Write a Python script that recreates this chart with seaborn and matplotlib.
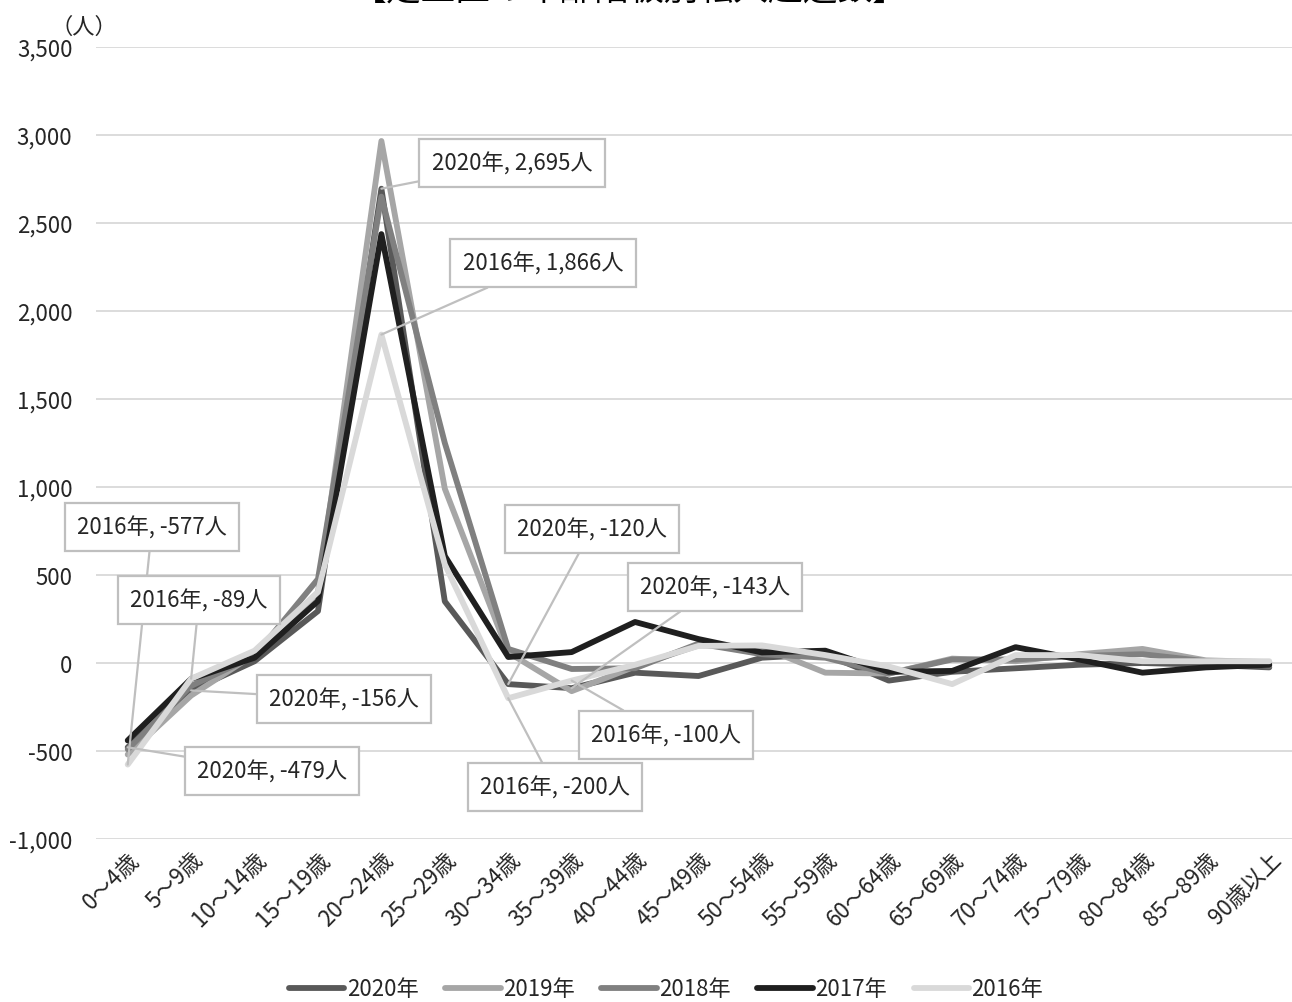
import matplotlib
matplotlib.use("Agg")
import matplotlib.pyplot as plt
import seaborn as sns
import pandas as pd
import numpy as np

categories = ["0～4歳", "5～9歳", "10～14歳", "15～19歳", "20～24歳", "25～29歳",
              "30～34歳", "35～39歳", "40～44歳", "45～49歳", "50～54歳", "55～59歳",
              "60～64歳", "65～69歳", "70～74歳", "75～79歳", "80～84歳", "85～89歳", "90歳以上"]
years = ["2020年", "2019年", "2018年", "2017年", "2016年"]
v2020 = [-479, -156, 10, 295, 2695, 350, -120, -143, -55, -74, 30, 50, -100, -50, -30, -10, 0, -10, -25]
v2019 = [-520, -185, 50, 400, 2966, 990, 60, -160, -20, 100, 90, -55, -60, 25, 10, 50, 80, 15, 5]
v2018 = [-490, -130, 40, 477, 2650, 1250, 80, -34, -30, 110, 50, 30, -60, 20, 20, 40, 50, 10, -15]
v2017 = [-440, -90, 30, 352, 2437, 608, 34, 62, 233, 136, 60, 70, -50, -45, 90, 20, -55, -25, -10]
v2016 = [-577, -89, 70, 403, 1866, 560, -200, -100, -10, 97, 100, 45, -20, -120, 45, 45, 10, 10, 10]
colors = ["#595959", "#a6a6a6", "#808080", "#1f1f1f", "#d9d9d9"]
yticks = [-1000, -500, 0, 500, 1000, 1500, 2000, 2500, 3000, 3500]

# annotations: (year, category index, value, text, box center px (x, y from top))
annots = [
    ("2020年", 4, 2695, "2020年, 2,695人", (512, 164)),
    ("2016年", 4, 1866, "2016年, 1,866人", (543, 264)),
    ("2016年", 0, -577, "2016年, -577人", (152, 528)),
    ("2016年", 1, -89, "2016年, -89人", (199, 601)),
    ("2020年", 1, -156, "2020年, -156人", (344, 700)),
    ("2020年", 0, -479, "2020年, -479人", (272, 772)),
    ("2020年", 6, -120, "2020年, -120人", (592, 530)),
    ("2020年", 7, -143, "2020年, -143人", (715, 588)),
    ("2016年", 7, -100, "2016年, -100人", (666, 736)),
    ("2016年", 6, -200, "2016年, -200人", (555, 788)),
]

sns.set_theme(style="white")
plt.rcParams['font.family'] = ['Noto Sans CJK JP', 'DejaVu Sans']
plt.rcParams['axes.unicode_minus'] = False

rows = []
for yr, vals in zip(years, [v2020, v2019, v2018, v2017, v2016]):
    for i, v in enumerate(vals):
        rows.append({"idx": i, "cat": categories[i], "year": yr, "value": v})
df = pd.DataFrame(rows)

FS = 16
W, H = 1292, 1003
fig = plt.figure(figsize=(W / 100, H / 100), dpi=100)
ax = fig.add_axes([96 / W, 1 - 840 / H, 1205 / W, (840 - 48) / H])

sns.lineplot(data=df, x="idx", y="value", hue="year", hue_order=years,
             palette=dict(zip(years, colors)), lw=4.2, ax=ax, legend=True,
             sort=False)

ax.set_xlim(-0.5, 18.5)
ax.set_ylim(-1000, 3500)
ax.set_yticks(yticks)
ax.set_yticklabels([f"{t:,}" for t in yticks], fontsize=FS, color="#262626")
ax.set_xticks(range(len(categories)))
ax.set_xticklabels(categories, rotation=45, ha="right", rotation_mode="anchor",
                   fontsize=FS, color="#262626")
ax.tick_params(axis="y", length=0, pad=17)
ax.tick_params(axis="x", length=0, pad=6)
ax.set_xlabel("")
ax.set_ylabel("")
ax.grid(axis="y", color="#d9d9d9", lw=1.3)
ax.grid(axis="x", visible=False)
for s in ax.spines.values():
    s.set_visible(False)

for yr, i, v, txt, (bx, by) in annots:
    ax.annotate(txt, xy=(i, v), xycoords="data",
                xytext=(bx, H - by), textcoords="figure pixels",
                ha="center", va="center", fontsize=FS, color="#262626",
                bbox=dict(boxstyle="square,pad=0.55", fc="white", ec="#bfbfbf", lw=1.6),
                arrowprops=dict(arrowstyle="-", color="#bfbfbf", lw=1.6,
                                shrinkA=0, shrinkB=0),
                zorder=5)

fig.text(50 / W, 1 - 27 / H, "（人）", fontsize=FS, ha="left", va="center", color="#262626")
fig.text(630 / W, 1 + 9 / H, "【足立区の年齢階級別転入超過数】", fontsize=25,
         ha="center", va="center", color="#000000")

handles, labels = ax.get_legend_handles_labels()
ax.legend(handles, labels, loc="center", bbox_to_anchor=(666 / W, 1 - 990 / H),
          bbox_transform=fig.transFigure, ncol=5, frameon=False, fontsize=FS,
          handlelength=2.5, handletextpad=0.1, columnspacing=1.2)

fig.savefig("out.png", dpi=100)
